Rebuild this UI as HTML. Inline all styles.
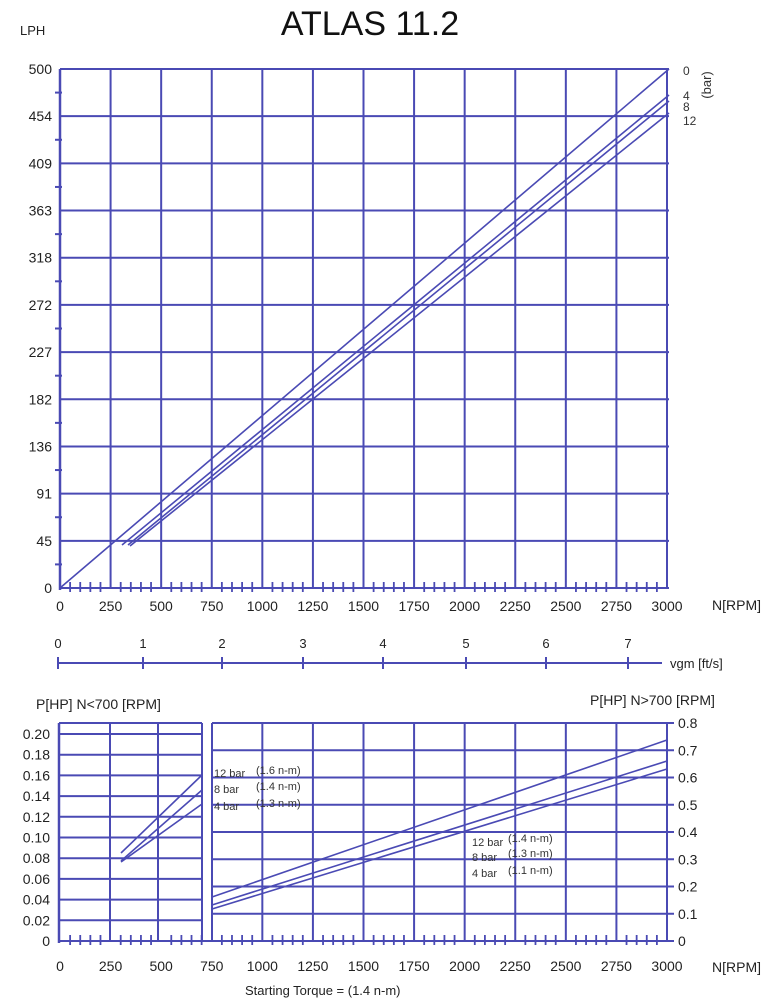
<!DOCTYPE html>
<html><head><meta charset="utf-8"><style>
html,body{margin:0;padding:0;background:#fff;}
svg{display:block;font-family:"Liberation Sans",sans-serif;}
</style></head><body>
<svg id="s" width="780" height="1000" viewBox="0 0 780 1000" xmlns="http://www.w3.org/2000/svg">
<text x="370" y="35" font-size="34" text-anchor="middle" fill="#111">ATLAS 11.2</text>
<text x="20" y="35" font-size="13" fill="#222">LPH</text>
<g id="g" stroke="#4a4ab4" fill="none"></g>
<g id="t" font-size="14" fill="#222"></g>
<text x="683" y="75" font-size="12" fill="#333">0</text>
<text x="683" y="100" font-size="12" fill="#333">4</text>
<text x="683" y="111" font-size="12" fill="#333">8</text>
<text x="683" y="125" font-size="12" fill="#333">12</text>
<text transform="translate(711,85) rotate(-90)" font-size="13" fill="#333" text-anchor="middle">(bar)</text>
<text x="712" y="610" font-size="14" fill="#222">N[RPM]</text>
<text x="670" y="668" font-size="13" fill="#222">vgm [ft/s]</text>
<text x="36" y="709" font-size="14" fill="#222">P[HP] N&lt;700 [RPM]</text>
<text x="590" y="705" font-size="14" fill="#222">P[HP] N&gt;700 [RPM]</text>
<text x="712" y="972" font-size="14" fill="#222">N[RPM]</text>
<text x="245" y="995" font-size="13" fill="#222">Starting Torque =  (1.4 n-m)</text>
<g font-size="11" fill="#333">
<text x="214" y="777">12 bar</text><text x="256" y="774">(1.6 n-m)</text>
<text x="214" y="793">8 bar</text><text x="256" y="790">(1.4 n-m)</text>
<text x="214" y="810">4 bar</text><text x="256" y="807">(1.3 n-m)</text>
<text x="472" y="846">12 bar</text><text x="508" y="842">(1.4 n-m)</text>
<text x="472" y="861">8 bar</text><text x="508" y="857">(1.3 n-m)</text>
<text x="472" y="877">4 bar</text><text x="508" y="874">(1.1 n-m)</text>
</g>
</svg>
<script>
var g=document.getElementById('g'),t=document.getElementById('t');
function L(x1,y1,x2,y2,w){var e=document.createElementNS('http://www.w3.org/2000/svg','line');e.setAttribute('x1',x1);e.setAttribute('y1',y1);e.setAttribute('x2',x2);e.setAttribute('y2',y2);e.setAttribute('stroke-width',w||2);g.appendChild(e);}
function T(x,y,s,a,fs){var e=document.createElementNS('http://www.w3.org/2000/svg','text');e.setAttribute('x',x);e.setAttribute('y',y);e.textContent=s;if(a)e.setAttribute('text-anchor',a);if(fs)e.setAttribute('font-size',fs);t.appendChild(e);}
function X(r){return 60+r*607/3000;}
var yl=['0','45','91','136','182','227','272','318','363','409','454','500'];
for(var i=0;i<12;i++){var y=588-i*519/11;L(60,y,669,y);T(52,y+5,yl[i],'end');if(i<11){var m=y-519/22;L(55,m,62,m);}}
for(var r=0;r<=3000;r+=250){L(X(r),69,X(r),588);T(X(r),611,String(r),'middle');}
L(60,69,60,590,2.5);
for(var r=50;r<3000;r+=50){if(r%250)L(X(r),582,X(r),592,1.8);}
L(60,588,669,69,1.6);L(122,545,669,95,1.6);L(128,545,669,101,1.6);L(130,546,669,113,1.6);
L(57,663,662,663,2);
var vx=[58,143,222,303,383,466,546,628];
for(var i=0;i<8;i++){L(vx[i],657,vx[i],669,2);T(vx[i],648,String(i),'middle',13);}
var ll=['0','0.02','0.04','0.06','0.08','0.10','0.12','0.14','0.16','0.18','0.20'];
for(var i=0;i<=10;i++){var y=941-i*20.7;if(i>0)L(59,y,202,y);T(50,y+5,ll[i],'end');}
L(59,723,202,723);L(59,723,59,943,2.5);L(110,723,110,941);L(158,723,158,941);L(202,723,202,941);L(212,723,212,941);
for(var i=0;i<=8;i++){var y=941-i*27.25;L(212,y,674,y);T(678,y+5,(i==0?'0':(i/10).toFixed(1)),'start');}
L(59,941,212,941);
for(var r=1000;r<=3000;r+=250)L(X(r),723,X(r),941);
for(var r=0;r<=3000;r+=250)T(X(r),971,String(r),'middle');
for(var r=50;r<3000;r+=50){if(r%250)L(X(r),935,X(r),945,1.8);}
L(121,853,202,775,1.6);L(121,861,202,790,1.6);L(121,862,202,804,1.6);
L(212,897,667,740,1.6);L(212,905,667,761,1.6);L(212,909,667,769,1.6);
</script>
</body></html>
